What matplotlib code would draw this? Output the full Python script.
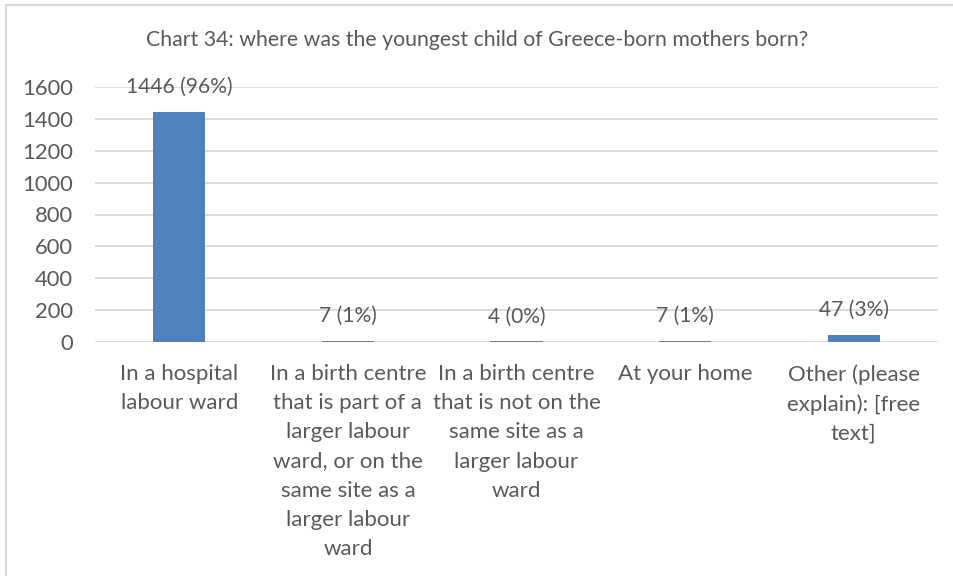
import matplotlib.pyplot as plt
from matplotlib.patches import Rectangle

categories = [
    "In a hospital\nlabour ward",
    "In a birth centre\nthat is part of a\nlarger labour\nward, or on the\nsame site as a\nlarger labour\nward",
    "In a birth centre\nthat is not on the\nsame site as a\nlarger labour\nward",
    "At your home",
    "Other (please\nexplain): [free\ntext]",
]
counts = [1446, 7, 4, 7, 47]
percents = [96, 1, 0, 1, 3]
yticks = [0, 200, 400, 600, 800, 1000, 1200, 1400, 1600]

plt.rcParams['font.family'] = ['Lato', 'DejaVu Sans']
text_color = '#595959'
grid_color = '#d9d9d9'
bar_color = '#4f81bd'

fig = plt.figure(figsize=(9.54, 5.76), dpi=100)
ax = fig.add_axes([95 / 954, 1 - 342 / 576, (938 - 95) / 954, (342 - 87) / 576])

x = list(range(len(counts)))
ax.bar(x, counts, width=0.31, color=bar_color, zorder=3)

for xi, c, p in zip(x, counts, percents):
    ax.annotate(f"{c} ({p}%)", (xi, c), xytext=(0, 18), textcoords='offset points',
                ha='center', va='center', fontsize=15.1, color=text_color, zorder=4)

ax.set_xlim(-0.5, len(counts) - 0.5)
ax.set_ylim(0, 1600)
ax.set_yticks(yticks)
ax.set_yticklabels([str(t) for t in yticks], fontsize=15.8, color=text_color)
ax.set_xticks(x)
ax.set_xticklabels(categories, fontsize=16, color=text_color, linespacing=1.57)
ax.tick_params(axis='y', length=0, pad=16)
ax.tick_params(axis='x', length=0, pad=16)

for s in ax.spines.values():
    s.set_visible(False)
ax.grid(axis='y', color=grid_color, linewidth=1.3, zorder=0)
ax.set_axisbelow(True)

fig.text(0.5, 1 - 40 / 576, "Chart 34: where was the youngest child of Greece-born mothers born?",
         ha='center', va='center', fontsize=15.3, color=text_color)

# chart area border (left and top edges visible)
fig.patches.append(Rectangle((6.5 / 954, -0.1), 1.2, 1.1 - 4.5 / 576,
                             transform=fig.transFigure, fill=False,
                             edgecolor=grid_color, linewidth=1.5))

fig.savefig("out.png", dpi=100)
